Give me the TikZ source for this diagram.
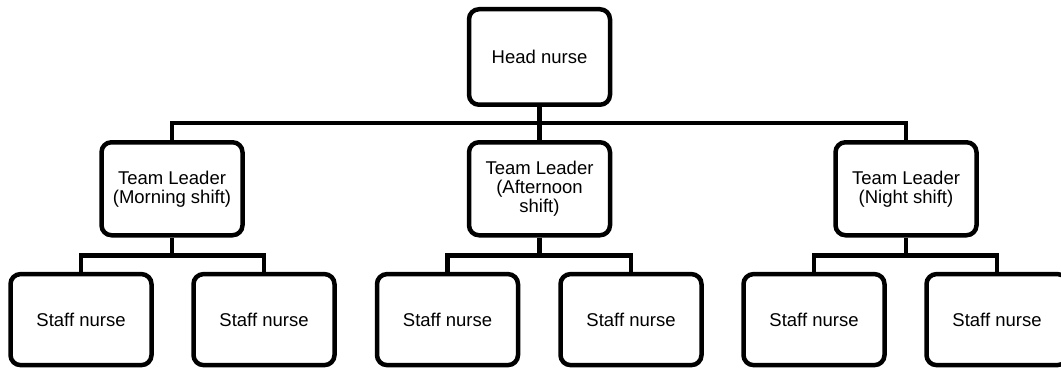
\documentclass[tikz,border=0pt]{standalone}
\usepackage{fontspec}
\setmainfont{Liberation Sans}
\begin{document}
\begin{tikzpicture}[x=1pt,y=-1pt,
  box/.style={draw=black,line width=4.5pt,rounded corners=10pt,fill=white,
    minimum width=141pt,inner sep=0pt,align=center,
    font=\fontsize{18.5}{19}\selectfont},
  headbox/.style={box,minimum height=95.5pt},
  leadbox/.style={box,minimum height=93pt},
  staffbox/.style={box,minimum height=91pt},
  conn/.style={draw=black,line width=4.5pt}]
\useasboundingbox (0,0) rectangle (1061,369);
\clip (0,0) rectangle (1061,369);
% nodes
\node[headbox] (head) at (539.5,57) {Head nurse};
\node[leadbox] (l1) at (172,188.75) {Team Leader\\(Morning shift)};
\node[leadbox] (l2) at (539.5,188.75) {Team Leader\\(Afternoon\\shift)};
\node[leadbox] (l3) at (906,188.75) {Team Leader\\(Night shift)};
\node[staffbox] (s1) at (81,319.6) {Staff nurse};
\node[staffbox] (s2) at (264,319.6) {Staff nurse};
\node[staffbox] (s3) at (447.5,319.6) {Staff nurse};
\node[staffbox] (s4) at (631,319.6) {Staff nurse};
\node[staffbox] (s5) at (814,319.6) {Staff nurse};
\node[staffbox] (s6) at (997,319.6) {Staff nurse};
% junctions
\coordinate (j0) at (539.5,123);
\coordinate (ja) at (172,255.5);
\coordinate (jb) at (539.5,255.5);
\coordinate (jc) at (906,255.5);
% connectors
\draw[conn] (head.south) -- (j0);
\draw[conn] (l1.north) |- (j0) -| (l3.north);
\draw[conn] (j0) -- (l2.north);
\draw[conn] (l1.south) -- (ja);
\draw[conn] (s1.north) |- (ja) -| (s2.north);
\draw[conn] (l2.south) -- (jb);
\draw[conn] (s3.north) |- (jb) -| (s4.north);
\draw[conn] (l3.south) -- (jc);
\draw[conn] (s5.north) |- (jc) -| (s6.north);
\end{tikzpicture}
\end{document}
